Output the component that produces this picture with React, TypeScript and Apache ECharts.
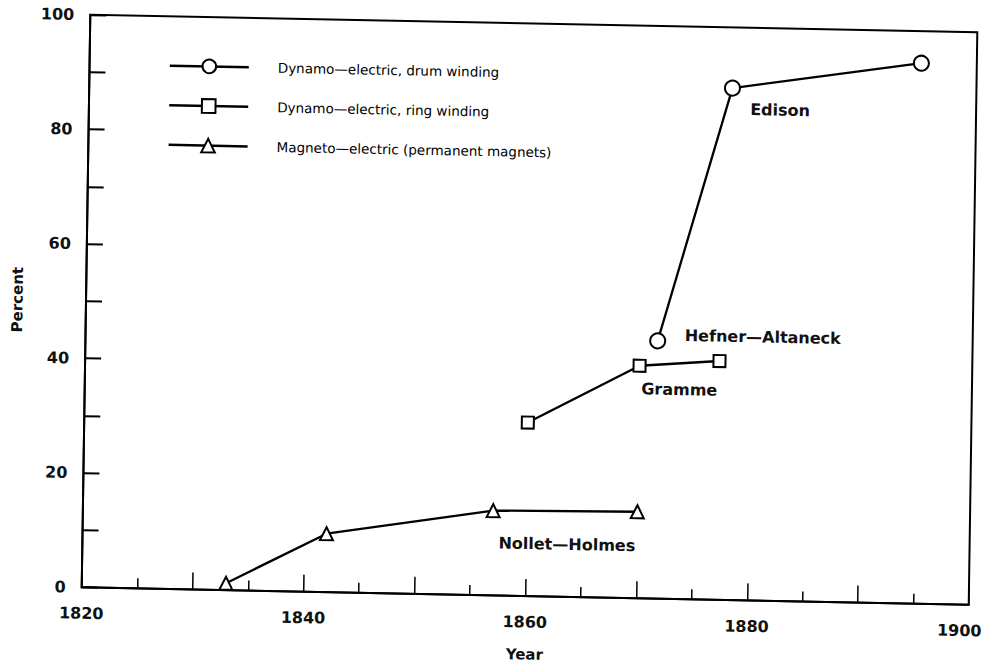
import React, { useEffect, useRef } from 'react';
import * as echarts from 'echarts';

// ---- data ----
const seriesNames = [
  'Dynamo—electric, drum winding',
  'Dynamo—electric, ring winding',
  'Magneto—electric (permanent magnets)',
];
const drumYears = [1871.6, 1878, 1895];
const drumPercent = [45.0, 89.4, 94.4];
const drumNotes = ['Hefner—Altaneck', 'Edison', ''];

const ringYears = [1860, 1870, 1877.2];
const ringPercent = [30.3, 40.6, 41.7];
const ringNotes = ['', 'Gramme', ''];

const magnetoYears = [1833, 1842, 1857, 1870];
const magnetoPercent = [1.2, 10.2, 14.8, 15.1];
const magnetoNotes = ['', '', '', 'Nollet—Holmes'];

const xLabelYears = [1820, 1840, 1860, 1880, 1900];
const yLabelValues = [0, 20, 40, 60, 80, 100];

// ---- layout / style (not data) ----
const noteOffsets: Record<string, [number, number]> = {
  'Hefner—Altaneck': [105, -6],
  Edison: [48, 21],
  Gramme: [40, 23],
  'Nollet—Holmes': [-70, 34],
};
const FONT = 'DejaVu Sans';
const tickFont = { fontFamily: FONT, fontSize: 16, fontWeight: 'bold' as const, color: '#111' };

function buildData(xs: number[], ys: number[], notes: string[]) {
  return xs.map((x, i) => {
    const note = notes[i];
    const item: any = { value: [x, ys[i]] };
    if (note) {
      item.label = {
        show: true,
        formatter: note,
        position: 'inside',
        offset: noteOffsets[note],
        color: '#111',
        fontFamily: FONT,
        fontSize: 16,
        fontWeight: 'bold',
      };
    }
    return item;
  });
}

export default function App() {
  const ref = useRef<HTMLDivElement>(null);

  useEffect(() => {
    if (!ref.current) return;
    const chart = echarts.init(ref.current, undefined, { renderer: 'svg' });
    const lineStyle = { color: '#000', width: 2.3 };
    const itemStyle = { color: '#fff', borderColor: '#000', borderWidth: 2 };
    const mk = (name: string, symbol: string, size: number, data: any[]) => ({
      name,
      type: 'line',
      data,
      symbol,
      symbolSize: size,
      showAllSymbol: true,
      lineStyle,
      itemStyle,
      emphasis: { disabled: true },
      z: 3,
    });
    const lastYear = xLabelYears[xLabelYears.length - 1];
    chart.setOption({
      animation: false,
      backgroundColor: '#fff',
      grid: {
        left: 86,
        right: 14,
        top: 23.5,
        bottom: 69,
        outerBoundsMode: 'none',
        containLabel: false,
        show: true,
        borderColor: '#000',
        borderWidth: 2,
        backgroundColor: 'transparent',
      },
      legend: {
        orient: 'vertical',
        left: 165,
        top: 65,
        padding: 0,
        itemWidth: 79,
        itemHeight: 17,
        itemGap: 24,
        selectedMode: false,
        data: seriesNames,
        itemStyle: { color: '#fff', borderColor: '#000', borderWidth: 2 },
        lineStyle: { color: '#000', width: 2.5 },
        textStyle: {
          fontFamily: FONT,
          fontSize: 13.5,
          color: '#000',
          padding: [0, 0, 0, 24],
        },
      },
      xAxis: {
        type: 'value',
        min: 1820,
        max: 1900,
        interval: 10,
        name: 'Year',
        nameLocation: 'middle',
        nameGap: 51,
        nameTextStyle: { fontFamily: FONT, fontSize: 15, fontWeight: 'bold', color: '#111' },
        axisLine: { show: true, lineStyle: { color: '#000', width: 2 } },
        axisTick: { show: true, inside: true, length: 17, lineStyle: { color: '#000', width: 1.5 } },
        minorTick: { show: true, splitNumber: 2, length: 10, lineStyle: { color: '#000', width: 1.5 } },
        splitLine: { show: false },
        axisLabel: {
          margin: 18,
          showMinLabel: true,
          showMaxLabel: true,
          ...tickFont,
          formatter: (v: number) =>
            v === lastYear ? `{end|${v}}` : xLabelYears.includes(v) ? String(v) : '',
          rich: {
            end: { ...tickFont, padding: [0, 18, 0, 0] },
          },
        },
      },
      yAxis: {
        type: 'value',
        min: 0,
        max: 100,
        interval: 10,
        name: 'Percent',
        nameLocation: 'middle',
        nameGap: 61,
        nameRotate: 90,
        nameTextStyle: { fontFamily: FONT, fontSize: 15, fontWeight: 'bold', color: '#111' },
        axisLine: { show: true, lineStyle: { color: '#000', width: 2 } },
        axisTick: { show: true, inside: true, length: 16, lineStyle: { color: '#000', width: 2 } },
        splitLine: { show: false },
        axisLabel: {
          margin: 16,
          ...tickFont,
          formatter: (v: number) => (yLabelValues.includes(v) ? String(v) : ''),
        },
      },
      series: [
        mk(seriesNames[0], 'circle', 15, buildData(drumYears, drumPercent, drumNotes)),
        mk(seriesNames[1], 'rect', 12, buildData(ringYears, ringPercent, ringNotes)),
        mk(seriesNames[2], 'triangle', 13, buildData(magnetoYears, magnetoPercent, magnetoNotes)),
      ],
    });
    return () => chart.dispose();
  }, []);

  return (
    <div
      style={{
        position: 'fixed',
        left: 0,
        top: 0,
        width: 987,
        height: 665,
        overflow: 'hidden',
        background: '#fff',
      }}
    >
      <div
        ref={ref}
        style={{
          position: 'absolute',
          left: 0,
          top: 0,
          width: 987,
          height: 665,
          transform: 'matrix(1, 0.0197, -0.015, 1, 0, 0)',
          transformOrigin: '530px 310px',
        }}
      />
    </div>
  );
}
